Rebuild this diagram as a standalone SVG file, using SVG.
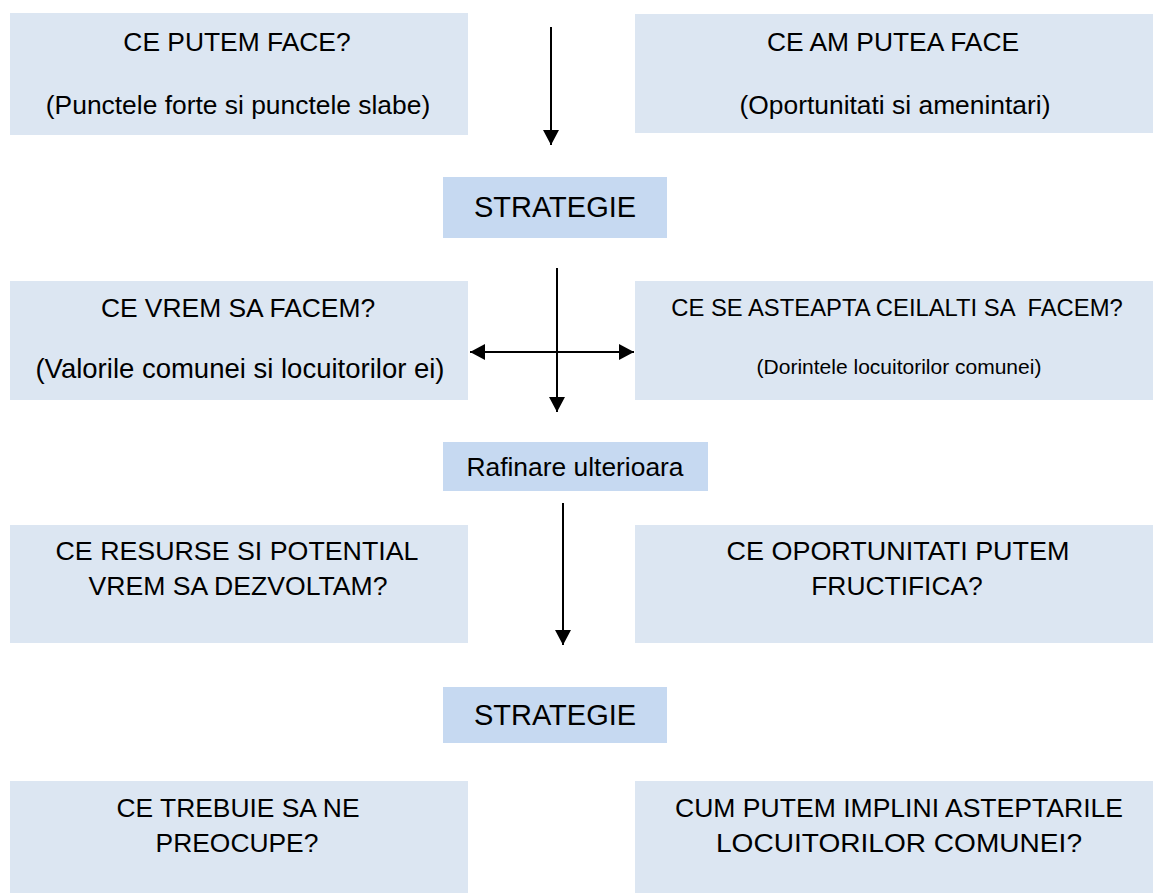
<svg xmlns="http://www.w3.org/2000/svg" width="1153" height="893" viewBox="0 0 1153 893">
<style>
.box{fill:#dce6f2}
.strat{fill:#c6d9f1}
text{font-family:"Liberation Sans",Arial,sans-serif;fill:#000;text-anchor:middle;white-space:pre}
.t26{font-size:26.4px}
.t24{font-size:23.8px}
.t21{font-size:21px}
.t29{font-size:29px}
.conn{stroke:#000;stroke-width:2;fill:none}
</style>
<defs>
<marker id="ah" markerWidth="16" markerHeight="16" refX="15" refY="8" orient="auto" markerUnits="userSpaceOnUse">
<path d="M0,0 L15,8 L0,16 Z" fill="#000"/>
</marker>
<marker id="ahs" markerWidth="16" markerHeight="16" refX="0" refY="8" orient="auto" markerUnits="userSpaceOnUse">
<path d="M15,0 L0,8 L15,16 Z" fill="#000"/>
</marker>
</defs>
<rect width="1153" height="893" fill="#fff"/>
<g id="n1"><rect class="box" x="10" y="13" width="458" height="122"/><text class="t26" x="237" y="51">CE PUTEM FACE?</text><text class="t26" x="238" y="114">(Punctele forte si punctele slabe)</text></g>
<g id="n2"><rect class="box" x="635" y="14" width="518" height="119"/><text class="t26" x="893" y="51">CE AM PUTEA FACE</text><text class="t26" x="895" y="114">(Oportunitati si amenintari)</text></g>
<g id="n3"><rect class="strat" x="443" y="177" width="224" height="61"/><text class="t29" x="555" y="217">STRATEGIE</text></g>
<g id="n4"><rect class="box" x="10" y="281" width="458" height="119"/><text class="t26" x="238" y="317">CE VREM SA FACEM?</text><text x="240" y="378" font-size="27.5">(Valorile comunei si locuitorilor ei)</text></g>
<g id="n5"><rect class="box" x="635" y="281" width="518" height="119"/><text class="t24" x="897" y="316" xml:space="preserve">CE SE ASTEAPTA CEILALTI SA  FACEM?</text><text class="t21" x="899" y="374">(Dorintele locuitorilor comunei)</text></g>
<g id="n6"><rect class="strat" x="443" y="442" width="265" height="49"/><text class="t26" x="575" y="476">Rafinare ulterioara</text></g>
<g id="n7"><rect class="box" x="10" y="525" width="458" height="118"/><text class="t26" x="237" y="560" textLength="363" lengthAdjust="spacingAndGlyphs">CE RESURSE SI POTENTIAL</text><text class="t26" x="238" y="595" textLength="299" lengthAdjust="spacingAndGlyphs">VREM SA DEZVOLTAM?</text></g>
<g id="n8"><rect class="box" x="635" y="525" width="518" height="118"/><text class="t26" x="898" y="560" textLength="343" lengthAdjust="spacingAndGlyphs">CE OPORTUNITATI PUTEM</text><text class="t26" x="897" y="595">FRUCTIFICA?</text></g>
<g id="n9"><rect class="strat" x="443" y="687" width="224" height="56"/><text class="t29" x="555" y="725">STRATEGIE</text></g>
<g id="n10"><rect class="box" x="10" y="781" width="458" height="112"/><text class="t26" x="238" y="817">CE TREBUIE SA NE</text><text class="t26" x="237" y="852">PREOCUPE?</text></g>
<g id="n11"><rect class="box" x="635" y="781" width="518" height="112"/><text class="t26" x="899" y="817" textLength="448" lengthAdjust="spacingAndGlyphs">CUM PUTEM IMPLINI ASTEPTARILE</text><text class="t26" x="899" y="852" textLength="366" lengthAdjust="spacingAndGlyphs">LOCUITORILOR COMUNEI?</text></g>
<g id="connectors">
<line class="conn" x1="551" y1="27" x2="551" y2="145" marker-end="url(#ah)"/>
<line class="conn" x1="557" y1="268" x2="557" y2="412" marker-end="url(#ah)"/>
<line class="conn" x1="470" y1="352" x2="634" y2="352" marker-start="url(#ahs)" marker-end="url(#ah)"/>
<line class="conn" x1="563" y1="503" x2="563" y2="645" marker-end="url(#ah)"/>
</g>
</svg>
